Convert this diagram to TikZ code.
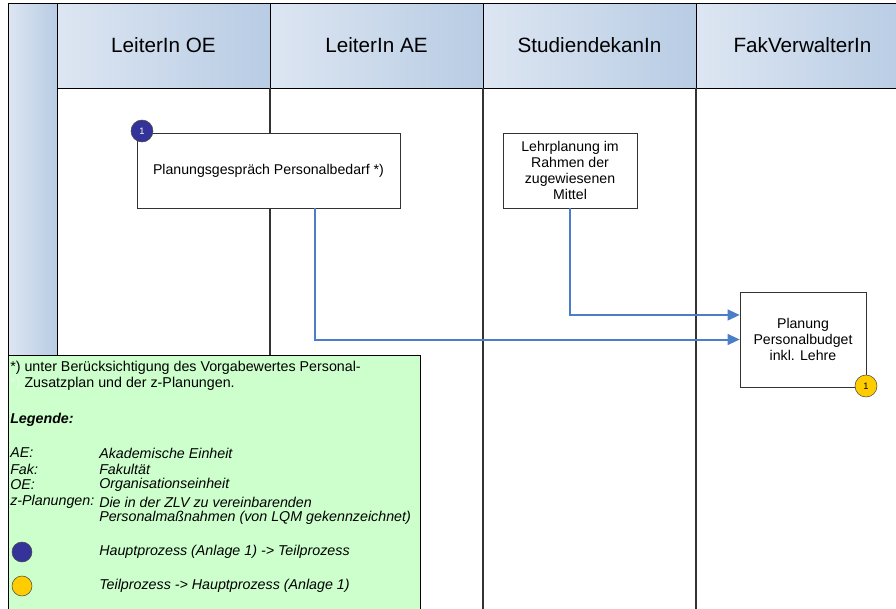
\documentclass[tikz,border=0pt]{standalone}
\usepackage{fontspec}
\setmainfont{Liberation Sans}
\usetikzlibrary{arrows.meta}

\definecolor{headdark}{HTML}{B8CCE4}
\definecolor{headlight}{HTML}{DDE6F2}
\definecolor{notegreen}{HTML}{CCFFCC}
\definecolor{faintgreen}{HTML}{E6FFE6}
\definecolor{flowblue}{HTML}{4A7EC7}
\definecolor{mainproc}{HTML}{333399}
\definecolor{subproc}{HTML}{FFCC00}

\tikzset{
  every node/.style={font=\fontsize{10.6}{12}\selectfont},
  head/.style={left color=headlight,right color=headdark,draw=black},
  title/.style={font=\fontsize{15.5}{18}\selectfont},
  task/.style={draw=black!80,fill=white,align=center,inner sep=0pt},
  flow/.style={draw=flowblue,line width=1.5pt,-{Triangle[length=9pt,width=8pt]}},
  main/.style={circle,draw=black!70,fill=mainproc,text=white,minimum size=16.5pt,inner sep=0pt,font=\fontsize{7}{8}\selectfont},
  sub/.style={circle,draw=black!70,fill=subproc,minimum size=16.5pt,inner sep=0pt,font=\fontsize{7}{8}\selectfont},
  note/.style={anchor=west,inner sep=0pt,font=\fontsize{10.7}{12}\selectfont},
  noteit/.style={note,font=\fontsize{10.7}{12}\selectfont\itshape}
}

\begin{document}
\begin{tikzpicture}[x=0.75pt,y=-0.75pt]
  \useasboundingbox (0,0) rectangle (896,608);

  % header row
  \draw[head] (8,3) rectangle (57,612);
  \foreach \x/\name/\txt in {57/oe/LeiterIn OE,270/ae/LeiterIn AE,483/sd/StudiendekanIn,696/fv/FakVerwalterIn}
    \draw[head] (\x,3) rectangle ++(213,85) node[title,midway] (\name) {\txt};
  \foreach \x in {270,483,696}
    \draw[black!80,line width=0.8pt] (\x,88) -- (\x,612);

  % tasks
  \node [task,minimum width=197pt,minimum height=56pt] (gespraech) at (268.5,170.5) {Planungsgespräch Personalbedarf *)};
  \node [task,minimum width=100.5pt,minimum height=56pt] (lehre) at (570,170.5) {Lehrplanung im\\Rahmen der\\zugewiesenen\\Mittel};
  \node [task,minimum width=94.5pt,minimum height=71pt] (budget) at (803,339.5) {Planung\\Personalbudget\\inkl. Lehre};
  \node [main] (start) at (142,131) {1};
  \node [sub] (ende) at (866,386) {1};

  \draw[flow] ([xshift=34.9pt]gespraech.south) |- (budget.west);
  \draw[flow] (lehre.south) |- ([yshift=18.4pt]budget.west);

  % legend
  \draw[fill=notegreen] (8,355) rectangle (420,612);
  \node [note] (n1) at (10,368) {*) unter Berücksichtigung des Vorgabewertes Personal-};
  \node [note] (n2) at (10,384) {{\color{faintgreen}*)} Zusatzplan und der z-Planungen.};
  \node [noteit,font=\fontsize{10.7}{12}\selectfont\bfseries\itshape] (leg) at (10,420) {Legende:};
  \foreach \y/\abbr/\txt in {453/AE:/Akademische Einheit,469/Fak:/Fakultät,485/OE:/Organisationseinheit,502/z-Planungen:/Die in der ZLV zu vereinbarenden}
  {
    \node [noteit] at (10,\y) {\abbr};
    \node [noteit] at (99,\y) {\txt};
  }
  \node [noteit] (n3) at (99,518) {Personalmaßnahmen (von LQM gekennzeichnet)};
  \node [main,minimum size=15pt] (legmain) at (22,552) {};
  \node [noteit] (n4) at (99,552) {Hauptprozess (Anlage 1) -> Teilprozess};
  \node [sub,minimum size=15pt] (legsub) at (22,586) {};
  \node [noteit] (n5) at (99,586) {Teilprozess -> Hauptprozess (Anlage 1)};
\end{tikzpicture}
\end{document}
